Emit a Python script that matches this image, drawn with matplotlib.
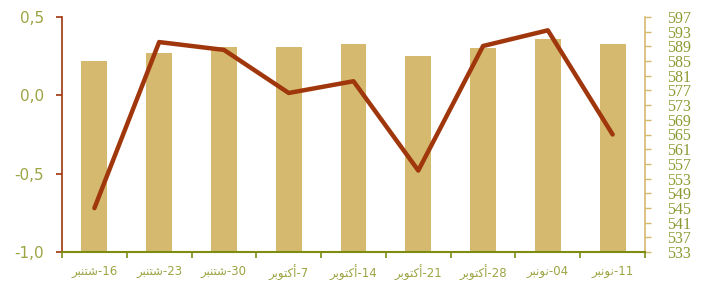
import matplotlib
matplotlib.use("Agg")
import matplotlib.pyplot as plt
from matplotlib.ticker import FuncFormatter, FixedLocator
import numpy as np

# ---- data ----
categories = ["16-شتنبر", "23-شتنبر", "30-شتنبر", "7-أكتوبر", "14-أكتوبر",
              "21-أكتوبر", "28-أكتوبر", "04-نونبر", "11-نونبر"]
line_values = [-0.72, 0.34, 0.29, 0.015, 0.09, -0.48, 0.315, 0.415, -0.25]
bar_values = [585.0, 587.2, 588.8, 588.8, 589.6, 586.4, 588.6, 591.0, 589.6]
left_ticks = [-1.0, -0.5, 0.0, 0.5]
right_ticks = list(range(533, 598, 4))

# ---- minimal Arabic shaping for display (matplotlib has no bidi/shaping) ----
FORMS = {  # isolated, final, initial, medial
    "ش": ("\uFEB5", "\uFEB6", "\uFEB7", "\uFEB8"),
    "ت": ("\uFE95", "\uFE96", "\uFE97", "\uFE98"),
    "ن": ("\uFEE5", "\uFEE6", "\uFEE7", "\uFEE8"),
    "ب": ("\uFE8F", "\uFE90", "\uFE91", "\uFE92"),
    "ر": ("\uFEAD", "\uFEAE", None, None),
    "أ": ("\uFE83", "\uFE84", None, None),
    "ك": ("\uFED9", "\uFEDA", "\uFEDB", "\uFEDC"),
    "و": ("\uFEED", "\uFEEE", None, None),
}
NONJOIN = {"ر", "أ", "و"}


def shape(word):
    out = []
    n = len(word)
    for i, ch in enumerate(word):
        prev_joins = i > 0 and word[i - 1] not in NONJOIN
        can_next = ch not in NONJOIN and i < n - 1
        iso, fin, ini, med = FORMS[ch]
        if prev_joins and can_next:
            out.append(med)
        elif prev_joins:
            out.append(fin)
        elif can_next:
            out.append(ini)
        else:
            out.append(iso)
    return "".join(out)[::-1]


def visual(label):
    num, word = label.split("-")
    return shape(word) + "-" + num


# ---- colours ----
bar_color = "#D4B96E"
line_color = "#A0360C"
label_color = "#9CA443"
right_label_color = "#8D9A32"
bottom_color = "#7E8C12"

fig = plt.figure(figsize=(7.14, 2.82), dpi=100)
ax = fig.add_axes([62 / 714, 30 / 282, 583 / 714, 235 / 282])
ax2 = ax.twinx()

x = np.arange(len(categories))
ax2.bar(x, bar_values, width=0.4, color=bar_color, zorder=1)
ax2.set_ylim(533, 597)
ax2.set_yticks(right_ticks)
ax2.tick_params(axis="y", direction="out", length=4, width=1, color=bar_color,
                labelcolor=right_label_color, labelsize=11.5, pad=12)
for lbl in ax2.get_yticklabels():
    lbl.set_family("Liberation Serif")

ax.plot(x, line_values, color=line_color, lw=3.2, solid_capstyle="round",
        solid_joinstyle="round", zorder=3)
ax.set_zorder(ax2.get_zorder() + 1)
ax.patch.set_visible(False)

ax.set_xlim(-0.5, len(categories) - 0.5)
ax.set_ylim(-1.0, 0.5)
ax.set_yticks(left_ticks)
ax.yaxis.set_major_formatter(FuncFormatter(lambda v, p: f"{v:.1f}".replace(".", ",")))
ax.tick_params(axis="y", direction="out", length=4, width=1.2, color=line_color,
               labelcolor=label_color, labelsize=11, pad=9)

ax.set_xticks(x)
ax.set_xticklabels([visual(c) for c in categories], family=["DejaVu Sans"])
ax.tick_params(axis="x", length=0, labelcolor=label_color, labelsize=8.5, pad=9)
ax.xaxis.set_minor_locator(FixedLocator(np.arange(-0.5, len(categories), 1.0)))
ax.tick_params(axis="x", which="minor", direction="out", length=4, width=1.2,
               color=bottom_color)

ax.spines["top"].set_visible(False)
ax2.spines["top"].set_visible(False)
ax.spines["right"].set_visible(False)
ax.spines["left"].set_color(line_color)
ax.spines["left"].set_linewidth(1.2)
ax.spines["bottom"].set_color(bottom_color)
ax.spines["bottom"].set_linewidth(1.5)
ax2.spines["left"].set_visible(False)
ax2.spines["bottom"].set_visible(False)
ax2.spines["right"].set_color(bar_color)
ax2.spines["right"].set_linewidth(1.2)

fig.savefig("out.png", dpi=100)
